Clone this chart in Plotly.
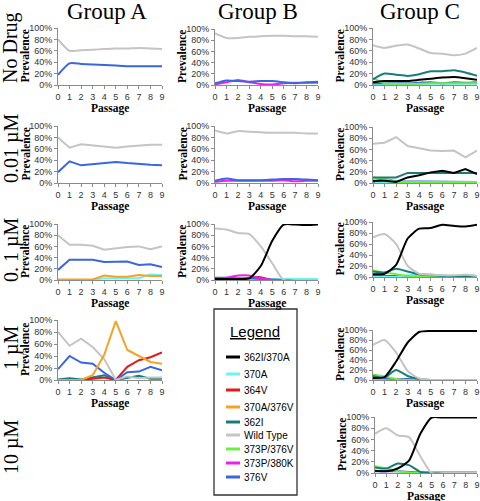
import plotly.graph_objects as go

W, H = 480, 501
passage = list(range(10))

series_names = ["362I/370A", "370A", "364V", "370A/376V", "362I",
                "Wild Type", "373P/376V", "373P/380K", "376V"]
series_colors = ["#000000", "#6CF5F0", "#E3191C", "#F5A325", "#187D78",
                 "#C4C4C4", "#6FEE42", "#F01EF0", "#3A66DF"]
color_of = dict(zip(series_names, series_colors))

y_tickvals = [0, 20, 40, 60, 80, 100]
y_ticktext = ["0%", "20%", "40%", "60%", "80%", "100%"]

# ---------------- Group A ----------------
a_nodrug_wt = [80, 60, 61, 62, 63, 64, 64, 65, 64, 63]
a_nodrug_376v = [18, 38, 37, 36, 35, 34, 33, 33, 33, 33]

a_001_wt = [80, 62, 68, 66, 64, 62, 64, 66, 67, 67]
a_001_376v = [19, 38, 31, 33, 35, 37, 35, 33, 32, 31]

a_01_wt = [80, 63, 63, 61, 54, 57, 59, 60, 55, 60]
a_01_376v = [18, 36, 36, 36, 32, 32, 33, 27, 28, 23]
a_01_370a376v = [1, 1, 1, 1, 8, 6, 6, 9, 7, 7]
a_01_370a = [0, 0, 0, 0, 3, 3, 3, 3, 10, 9]

a_1_wt = [80, 57, 69, 55, 35, 0, 6, 3, 4, 4]
a_1_376v = [18, 40, 29, 27, 12, 0, 13, 14, 22, 16]
a_1_370a376v = [0, 0, 0, 8, 42, 98, 50, 40, 30, 27]
a_1_364v = [0, 0, 0, 2, 4, 0, 22, 33, 38, 46]
a_1_362i = [1, 3, 1, 5, 8, 0, 4, 7, 2, 2]

# ---------------- Group B ----------------
b_nodrug_wt = [92, 84, 84, 86, 87, 88, 88, 87, 87, 86]
b_nodrug_376v = [3, 8, 7, 6, 7, 7, 5, 3, 5, 6]
b_nodrug_373p380k = [1, 5, 9, 5, 2, 1, 3, 4, 4, 4]

b_001_wt = [92, 87, 91, 90, 89, 88, 88, 88, 87, 87]
b_001_376v = [4, 8, 5, 5, 5, 6, 7, 7, 6, 5]
b_001_373p380k = [2, 4, 4, 4, 4, 4, 5, 3, 4, 4]

b_01_wt = [92, 90, 84, 82, 60, 30, 0, 0, 0, 0]
b_01_362i370a = [2, 2, 2, 3, 25, 70, 99, 99, 98, 99]
b_01_373p380k = [2, 4, 8, 8, 3, 0, 0, 0, 0, 0]
b_01_364v = [0, 0, 0, 4, 5, 0, 0, 0, 0, 0]
b_01_376v = [4, 4, 3, 3, 2, 1, 0, 0, 0, 0]
b_01_370a = [0, 0, 0, 0, 0, 1, 2, 2, 2, 2]

# ---------------- Group C ----------------
c_nodrug_wt = [70, 65, 69, 71, 64, 56, 55, 52, 55, 65]
c_nodrug_362i = [10, 20, 18, 16, 19, 24, 24, 26, 22, 16]
c_nodrug_362i370a = [5, 7, 7, 7, 9, 11, 13, 14, 12, 9]
c_nodrug_373p376v = [12, 3, 2, 2, 2, 3, 3, 3, 3, 3]
c_nodrug_376v = [3, 3, 3, 3, 4, 5, 3, 5, 4, 5]
c_nodrug_370a = [1, 1, 1, 1, 2, 2, 2, 2, 2, 2]

c_001_wt = [70, 72, 82, 66, 62, 58, 57, 58, 46, 58]
c_001_362i = [10, 10, 10, 18, 18, 18, 18, 18, 18, 18]
c_001_362i370a = [4, 4, 2, 10, 14, 19, 22, 18, 25, 16]
c_001_373p376v = [10, 7, 2, 2, 2, 2, 2, 2, 2, 2]
c_001_376v = [2, 7, 3, 3, 3, 2, 2, 2, 2, 2]
c_001_370a = [2, 2, 2, 2, 2, 2, 2, 2, 2, 2]

c_01_wt = [72, 78, 60, 20, 6, 4, 3, 3, 4, 2]
c_01_362i370a = [5, 6, 22, 70, 88, 89, 95, 93, 92, 95]
c_01_362i = [10, 8, 15, 10, 5, 3, 2, 2, 2, 2]
c_01_373p376v = [12, 8, 5, 2, 1, 1, 1, 1, 1, 1]
c_01_370a = [0, 0, 0, 3, 5, 5, 3, 2, 4, 2]
c_01_376v = [2, 2, 2, 2, 1, 1, 1, 1, 1, 1]

c_1_wt = [70, 80, 55, 18, 3, 0, 0, 0, 0, 0]
c_1_362i370a = [4, 6, 37, 75, 96, 98, 98, 98, 98, 98]
c_1_362i = [8, 5, 20, 8, 2, 0, 0, 0, 0, 0]
c_1_373p376v = [11, 7, 2, 0, 0, 0, 0, 0, 0, 0]
c_1_376v = [3, 3, 2, 2, 1, 0, 0, 0, 0, 0]

c_10_wt = [70, 80, 67, 64, 30, 0, 0, 0, 0, 0]
c_10_362i370a = [4, 3, 8, 22, 70, 99, 99, 99, 99, 99]
c_10_362i = [10, 8, 17, 14, 2, 0, 0, 0, 0, 0]
c_10_373p376v = [12, 8, 3, 1, 0, 0, 0, 0, 0, 0]
c_10_376v = [3, 3, 3, 2, 1, 1, 1, 1, 1, 1]

col_titles = ["Group A", "Group B", "Group C"]
row_titles = ["No Drug", "0.01 \u00b5M", "0. 1 \u00b5M", "1 \u00b5M", "10 \u00b5M"]

# panel boxes in pixels: (left, right, top, bottom)
panels = [
    ((58, 162, 28, 85), "spline", {"Wild Type": a_nodrug_wt, "376V": a_nodrug_376v}),
    ((215, 318, 29, 85), "spline", {"Wild Type": b_nodrug_wt, "373P/380K": b_nodrug_373p380k, "376V": b_nodrug_376v}),
    ((373, 477, 28, 85), "spline", {"370A": c_nodrug_370a, "376V": c_nodrug_376v, "373P/376V": c_nodrug_373p376v,
                                     "Wild Type": c_nodrug_wt, "362I": c_nodrug_362i, "362I/370A": c_nodrug_362i370a}),
    ((58, 162, 126, 183), "linear", {"Wild Type": a_001_wt, "376V": a_001_376v}),
    ((215, 318, 126, 183), "spline", {"Wild Type": b_001_wt, "373P/380K": b_001_373p380k, "376V": b_001_376v}),
    ((373, 477, 127, 183), "linear", {"370A": c_001_370a, "376V": c_001_376v, "373P/376V": c_001_373p376v,
                                       "Wild Type": c_001_wt, "362I": c_001_362i, "362I/370A": c_001_362i370a}),
    ((58, 162, 224, 280), "linear", {"370A": a_01_370a, "370A/376V": a_01_370a376v, "Wild Type": a_01_wt, "376V": a_01_376v}),
    ((215, 318, 224, 280), "spline", {"370A": b_01_370a, "364V": b_01_364v, "376V": b_01_376v, "373P/380K": b_01_373p380k,
                                       "Wild Type": b_01_wt, "362I/370A": b_01_362i370a}),
    ((373, 477, 222, 277), "spline", {"376V": c_01_376v, "370A": c_01_370a, "373P/376V": c_01_373p376v,
                                       "362I": c_01_362i, "Wild Type": c_01_wt, "362I/370A": c_01_362i370a}),
    ((58, 162, 320, 380), "linear", {"362I": a_1_362i, "364V": a_1_364v, "376V": a_1_376v,
                                      "Wild Type": a_1_wt, "370A/376V": a_1_370a376v}),
    ((373, 477, 330, 380), "spline", {"376V": c_1_376v, "373P/376V": c_1_373p376v, "362I": c_1_362i,
                                       "Wild Type": c_1_wt, "362I/370A": c_1_362i370a}),
    ((375, 477, 417, 473), "spline", {"376V": c_10_376v, "373P/376V": c_10_373p376v, "362I": c_10_362i,
                                       "Wild Type": c_10_wt, "362I/370A": c_10_362i370a}),
]

SERIF = "Liberation Serif"
SANS = "Liberation Sans"

fig = go.Figure()
layout = dict(width=W, height=H, margin=dict(l=0, r=0, t=0, b=0, autoexpand=False),
              paper_bgcolor="white", plot_bgcolor="white", showlegend=False)
annotations = []
shapes = []

def px(x):
    return x / W

def py(y):
    return 1 - y / H

for i, (box, shape, series) in enumerate(panels):
    n = i + 1
    xa = "xaxis" if n == 1 else f"xaxis{n}"
    ya = "yaxis" if n == 1 else f"yaxis{n}"
    xr = "x" if n == 1 else f"x{n}"
    yr = "y" if n == 1 else f"y{n}"
    l, r, t, b = box
    for name, vals in series.items():
        fig.add_trace(go.Scatter(
            x=passage, y=vals, mode="lines", name=name, xaxis=xr, yaxis=yr,
            line=dict(color=color_of[name], width=2, shape=shape, smoothing=0.6),
            hoverinfo="skip"))
    layout[xa] = dict(domain=[px(l), px(r)], range=[0, 9], anchor=yr,
                      showline=True, linecolor="#8c8c8c", linewidth=1,
                      ticks="outside", ticklen=3, tickcolor="#8c8c8c",
                      tickmode="array", tickvals=passage, ticktext=[str(p) for p in passage],
                      showgrid=False, zeroline=False, automargin=False,
                      ticklabeloverflow="allow",
                      tickfont=dict(family=SANS, size=9, color="#333333"))
    layout[ya] = dict(domain=[py(b), py(t)], range=[0, 100], anchor=xr,
                      showline=True, linecolor="#8c8c8c", linewidth=1,
                      ticks="outside", ticklen=3, tickcolor="#8c8c8c",
                      tickmode="array", tickvals=y_tickvals, ticktext=y_ticktext,
                      showgrid=False, zeroline=False, automargin=False,
                      ticklabeloverflow="allow",
                      tickfont=dict(family=SANS, size=9, color="#333333"))
    annotations.append(dict(text="<b>Prevalence</b>", textangle=-90, xref="paper", yref="paper",
                            x=px(l - 33), y=py((t + b) / 2), showarrow=False,
                            xanchor="center", yanchor="middle",
                            font=dict(family=SERIF, size=11.5, color="black")))
    annotations.append(dict(text="<b>Passage</b>", xref="paper", yref="paper",
                            x=px((l + r) / 2), y=py(b + 23), showarrow=False,
                            xanchor="center", yanchor="middle",
                            font=dict(family=SERIF, size=11.5, color="black")))

# column titles
for title, cx in zip(col_titles, [107, 258, 420]):
    annotations.append(dict(text=title, xref="paper", yref="paper", x=px(cx), y=py(11),
                            showarrow=False, xanchor="center", yanchor="middle",
                            font=dict(family=SERIF, size=23, color="black")))
# row titles
for title, cy in zip(row_titles, [48, 148, 250, 348, 447]):
    annotations.append(dict(text=title, textangle=-90, xref="paper", yref="paper",
                            x=px(11), y=py(cy), showarrow=False, xanchor="center",
                            yanchor="middle", font=dict(family=SERIF, size=20, color="black")))

# legend box
shapes.append(dict(type="rect", xref="paper", yref="paper", x0=px(214), x1=px(297),
                   y0=py(495), y1=py(309), line=dict(color="#333333", width=1.3),
                   fillcolor="white", layer="below"))
annotations.append(dict(text="<u>Legend</u>", xref="paper", yref="paper", x=px(255), y=py(331),
                        showarrow=False, xanchor="center", yanchor="middle",
                        font=dict(family=SANS, size=15, color="black")))
legend_y = [357, 374, 390, 407, 422, 435, 449, 463, 477]
for name, yy in zip(series_names, legend_y):
    shapes.append(dict(type="line", xref="paper", yref="paper", x0=px(226), x1=px(240),
                       y0=py(yy), y1=py(yy), line=dict(color=color_of[name], width=3)))
    annotations.append(dict(text=name, xref="paper", yref="paper", x=px(242), y=py(yy),
                            showarrow=False, xanchor="left", yanchor="middle",
                            font=dict(family=SANS, size=10, color="black")))

layout["annotations"] = annotations
layout["shapes"] = shapes
fig.update_layout(**layout)
fig.write_html("out.html", config={"displayModeBar": False},
               post_script="document.body.style.margin='0';document.body.style.padding='0';")
